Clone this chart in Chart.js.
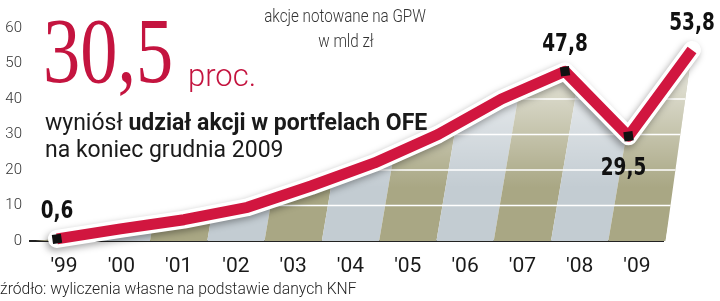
<!DOCTYPE html>
<html><head><meta charset="utf-8">
<script src="https://cdn.jsdelivr.net/npm/chart.js@4.4.1/dist/chart.umd.min.js"></script>
<style>
html,body{margin:0;padding:0;background:#fff;}
#wrap{position:relative;width:720px;height:301px;overflow:hidden;}
canvas{position:absolute;left:0;top:0;}
.t{position:absolute;white-space:nowrap;line-height:1;}
#title1,#title2{font-family:Roboto,sans-serif;font-weight:300;font-size:19px;color:#333;transform:translateX(-50%) scaleX(0.8);}
#title1{left:345px;top:6px;}
#title2{left:346px;top:31px;}
#big{left:43px;top:4px;font-family:"Liberation Serif",serif;font-size:93px;color:#c4143f;transform:scaleX(0.8);transform-origin:0 0;}
#proc{left:188px;top:60px;font-family:Roboto,sans-serif;font-weight:300;font-size:31px;color:#c4143f;}
#sub1,#sub2{left:45px;font-family:Roboto,sans-serif;font-size:23px;color:#1a1a1a;}
#sub1{top:111px;}
#sub2{top:138px;}
#sub1 b{font-weight:700;}
#src{left:0px;top:281px;font-family:Roboto,sans-serif;font-weight:300;font-size:16.5px;color:#222;transform:scaleX(0.95);transform-origin:0 0;}
</style></head><body>
<div id="wrap">
<canvas id="c" width="720" height="301"></canvas>
<div class="t" id="title1">akcje notowane na GPW</div>
<div class="t" id="title2">w mld zł</div>
<div class="t" id="big">30,5</div>
<div class="t" id="proc">proc.</div>
<div class="t" id="sub1">wyniósł <b>udział akcji w portfelach OFE</b></div>
<div class="t" id="sub2">na koniec grudnia 2009</div>
<div class="t" id="src">źródło: wyliczenia własne na podstawie danych KNF</div>
</div>
<script>
// ---- data ----
const years = [1999, 2000, 2001, 2002, 2003, 2004, 2005, 2006, 2007, 2008, 2009];
const tickLabels = ["'99", "'00", "'01", "'02", "'03", "'04", "'05", "'06", "'07", "'08", "'09"];
const values = [0.6, 3.4, 6.0, 9.5, 15.5, 22.0, 30.0, 40.0, 47.8, 29.5, 53.8];
const labeledYears = [1999, 2007, 2008, 2009];
const valueLabels = ["0,6", "47,8", "29,5", "53,8"];
const labelBelow = [false, false, true, false];
const yTicks = [0, 10, 20, 30, 40, 50, 60];
const gridValues = [10, 20, 30, 40, 50];

const RED = '#d1163f';
const OLIVE = '#a9a784';
const GREY = '#c3ccd2';
const SLANT = 0.17;

const points = years.map((y, i) => ({x: y, y: values[i]}));

const bandsPlugin = {
  id: 'bands',
  beforeDatasetsDraw(chart) {
    const ctx = chart.ctx;
    const pts = chart.getDatasetMeta(1).data;
    const xs = chart.scales.x, ys = chart.scales.y;
    const base = ys.getPixelForValue(0);
    const top = ys.getPixelForValue(60) - 20;
    const H = base - top;
    const leftB = xs.getPixelForValue(years[0] - 0.5);
    const rightB = xs.getPixelForValue(years[years.length - 1] + 0.5);
    ctx.save();
    ctx.beginPath();
    ctx.moveTo(leftB, base);
    pts.forEach(p => ctx.lineTo(p.x, p.y));
    ctx.lineTo(rightB, base);
    ctx.closePath();
    ctx.clip();
    years.forEach((yr, i) => {
      const b0 = xs.getPixelForValue(yr - 0.5) - (i === 0 ? 10 : 0);
      const b1 = xs.getPixelForValue(yr + 0.5);
      ctx.beginPath();
      ctx.moveTo(b0, base);
      ctx.lineTo(b1, base);
      ctx.lineTo(b1 + SLANT * H, top);
      ctx.lineTo(b0 + SLANT * H, top);
      ctx.closePath();
      ctx.fillStyle = (i % 2 === 0) ? OLIVE : GREY;
      ctx.fill();
    });
    const g = ctx.createLinearGradient(0, ys.getPixelForValue(15), 0, ys.getPixelForValue(55));
    g.addColorStop(0, 'rgba(255,255,255,0)');
    g.addColorStop(1, 'rgba(255,255,255,0.85)');
    ctx.fillStyle = g;
    ctx.fillRect(0, top, chart.width, H);
    ctx.strokeStyle = '#ffffff';
    ctx.lineWidth = 1.5;
    gridValues.forEach(v => {
      const y = ys.getPixelForValue(v);
      ctx.beginPath();
      ctx.moveTo(0, y);
      ctx.lineTo(chart.width, y);
      ctx.stroke();
    });
    ctx.restore();
  },
  beforeDatasetDraw(chart, args) {
    if (args.index === 0) {
      const ctx = chart.ctx;
      ctx.save();
      ctx.shadowColor = 'rgba(0,0,0,0.35)';
      ctx.shadowBlur = 7;
      ctx.shadowOffsetX = -2;
      ctx.shadowOffsetY = 3;
    }
  },
  afterDatasetDraw(chart, args) {
    if (args.index === 0) chart.ctx.restore();
  },
  afterDatasetsDraw(chart) {
    const ctx = chart.ctx;
    const pts = chart.getDatasetMeta(1).data;
    labeledYears.forEach((yr, k) => {
      const p = pts[years.indexOf(yr)];
      const dy = labelBelow[k] ? 32 : -27;
      ctx.save();
      ctx.translate(p.x - (labelBelow[k] ? 5 : 0), p.y + dy);
      ctx.scale(0.82, 1);
      ctx.font = 'bold 25px "DejaVu Sans Condensed", "DejaVu Sans", sans-serif';
      ctx.fillStyle = '#111';
      ctx.textAlign = 'center';
      ctx.textBaseline = 'middle';
      ctx.fillText(valueLabels[k], 0, 0);
      ctx.restore();
    });
  }
};

new Chart(document.getElementById('c'), {
  type: 'line',
  data: {
    datasets: [
      {
        data: points, xAxisID: 'x2', yAxisID: 'y',
        borderColor: '#ffffff', borderWidth: 18,
        borderCapStyle: 'round', borderJoinStyle: 'round',
        pointRadius: 0, fill: false, order: 2, clip: false, tension: 0
      },
      {
        data: points, xAxisID: 'x2', yAxisID: 'y',
        borderColor: RED, borderWidth: 11,
        borderCapStyle: 'butt', borderJoinStyle: 'round',
        pointStyle: 'rect',
        pointRadius: c => labeledYears.includes(years[c.dataIndex]) ? 6.5 : 0,
        pointRotation: -8,
        pointBackgroundColor: '#111', pointBorderWidth: 0,
        fill: false, order: 1, clip: false, tension: 0
      }
    ]
  },
  options: {
    responsive: false, animation: false, devicePixelRatio: 1,
    layout: {padding: {left: 0, right: 57, top: 28, bottom: 0}},
    plugins: {legend: {display: false}, tooltip: {enabled: false}},
    scales: {
      x: {
        type: 'linear', position: 'bottom', min: 1998.406, max: 2009.455,
        afterBuildTicks: s => { s.ticks = years.map(v => ({value: v})); },
        afterFit: s => { s.height = 60; },
        ticks: {
          autoSkip: false, maxRotation: 0, padding: 13, color: '#1a1a1a',
          font: {family: 'Roboto', size: 21, weight: 400},
          callback: v => tickLabels[years.indexOf(v)]
        },
        grid: {display: false, drawTicks: false},
        border: {display: true, color: '#222', width: 2}
      },
      x2: {type: 'linear', display: false, min: 1998.575, max: 2008.543},
      y: {
        min: 0, max: 60,
        afterBuildTicks: s => { s.ticks = yTicks.map(v => ({value: v})); },
        afterFit: s => { s.width = 30; },
        ticks: {padding: 8, color: '#333', font: {family: 'Roboto', size: 15, weight: 300}},
        grid: {display: false, drawTicks: false},
        border: {display: false}
      }
    }
  },
  plugins: [bandsPlugin]
});
</script>
</body></html>
